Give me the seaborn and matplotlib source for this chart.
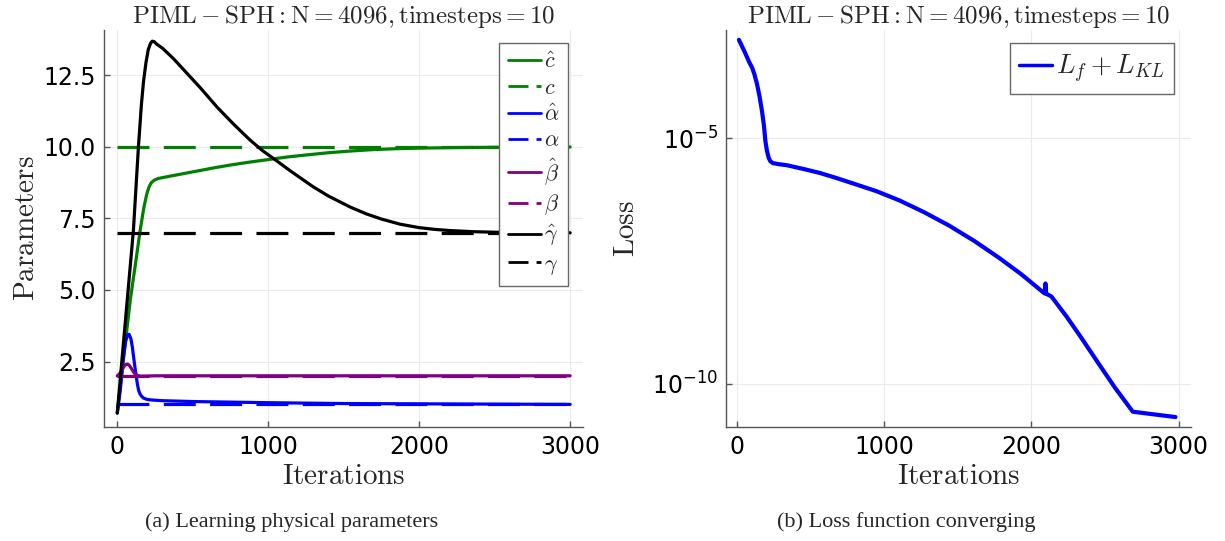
import numpy as np
import pandas as pd
import matplotlib
matplotlib.use("Agg")
import matplotlib.pyplot as plt
import seaborn as sns
from matplotlib.ticker import FixedLocator, FixedFormatter

# ---------------- data ----------------
c_hat_iter = [0, 25, 50, 86, 120, 152, 175, 195, 210, 225, 245, 272, 350, 450, 550, 650, 750, 875, 1000,
              1125, 1250, 1400, 1550, 1700, 1850, 2000, 2250, 2500, 3000]
c_hat_val = [0.7, 1.9, 3.0, 4.65, 5.9, 7.1, 7.85, 8.35, 8.6, 8.75, 8.84, 8.9, 8.98, 9.08, 9.18, 9.28, 9.37, 9.47, 9.56,
             9.65, 9.72, 9.8, 9.86, 9.91, 9.94, 9.96, 9.98, 9.99, 10.0]

gamma_hat_iter = [0, 30, 66, 107, 140, 160, 174, 190, 205, 220, 232, 245, 260, 300, 370, 440, 550, 660, 770, 880,
                  960, 1060, 1150, 1300, 1400, 1543, 1650, 1750, 1874, 2000, 2100, 2200, 2350, 2500, 2700, 3000]
gamma_hat_val = [0.7, 2.5, 4.65, 7.1, 10.0, 11.5, 12.3, 12.95, 13.4, 13.62, 13.7, 13.68, 13.6, 13.45, 13.1, 12.7, 12.07,
                 11.4, 10.8, 10.24, 9.88, 9.5, 9.15, 8.6, 8.28, 7.9, 7.66, 7.48, 7.3, 7.18, 7.12, 7.08, 7.04, 7.02, 7.0, 7.0]

alpha_hat_iter = [0, 20, 40, 55, 68, 78, 90, 100, 108, 117, 125, 133, 141, 150, 160, 174, 200, 240, 300, 500,
                  1000, 1500, 2000, 2500, 3000]
alpha_hat_val = [0.7, 1.5, 2.6, 3.2, 3.43, 3.45, 3.3, 3.0, 2.66, 2.3, 2.0, 1.72, 1.5, 1.37, 1.29, 1.22, 1.17, 1.15,
                 1.13, 1.1, 1.06, 1.03, 1.02, 1.01, 1.0]

beta_hat_iter = [0, 15, 30, 45, 58, 68, 80, 92, 105, 120, 135, 150, 180, 250, 500, 1000, 2000, 3000]
beta_hat_val = [2.0, 2.07, 2.2, 2.33, 2.4, 2.41, 2.36, 2.27, 2.15, 2.05, 2.01, 1.99, 1.99, 2.0, 2.0, 2.0, 2.0, 2.0]

true_iter = [0, 3000]
c_true = 10.0
alpha_true = 1.0
beta_true = 2.0
gamma_true = 7.0

loss_iter = [10, 50, 80, 100, 115, 133, 150, 167, 180, 190, 200, 212, 223, 240, 280, 337, 450, 561, 670, 784,
             946, 1101, 1270, 1439, 1610, 1777, 1930, 2081, 2090, 2095, 2100, 2135, 2240, 2338, 2450, 2568,
             2689, 2800, 2980]
loss_val = [1.0e-3, 5.6e-4, 3.5e-4, 2.7e-4, 2.0e-4, 1.26e-4, 7.1e-5, 3.5e-5, 1.8e-5, 8.7e-6, 5.6e-6, 4.0e-6,
            3.4e-6, 3.1e-6, 2.95e-6, 2.8e-6, 2.35e-6, 1.95e-6, 1.55e-6, 1.2e-6, 8.3e-7, 5.4e-7, 3.1e-7,
            1.66e-7, 8.1e-8, 3.7e-8, 1.7e-8, 7.2e-9, 6.9e-9, 1.1e-8, 6.8e-9, 6.0e-9, 2.3e-9, 8.7e-10,
            2.75e-10, 8.3e-11, 2.7e-11, 2.45e-11, 2.1e-11]

x_ticks = [0, 1000, 2000, 3000]
y_ticks_left = [2.5, 5.0, 7.5, 10.0, 12.5]
y_ticklabels_left = ["2.5", "5.0", "7.5", "10.0", "12.5"]
y_ticks_right = [1e-10, 1e-5]
y_ticklabels_right = [r"$10^{-10}$", r"$10^{-5}$"]

title_text = r"$\mathrm{PIML} - \mathrm{SPH}: \mathrm{N} = 4096, \mathrm{timesteps} = 10$"
caption_a = "(a) Learning physical parameters"
caption_b = "(b) Loss function converging"

# ---------------- style ----------------
sns.set_theme(style="ticks")
plt.rcParams["font.family"] = ["DejaVu Sans"]
plt.rcParams["mathtext.fontset"] = "dejavusans"

GREEN = "#008000"
BLUE = "#0000ff"
PURPLE = "#800080"
BLACK = "#000000"
LW = 2.3
DASH = (10, 4.5)

fig = plt.figure(figsize=(12.25, 5.41), dpi=100)
W, H = 1225, 541


def px_axes(l, t, r, b):
    return fig.add_axes([l / W, 1 - b / H, (r - l) / W, (b - t) / H])


ax1 = px_axes(104, 30, 583, 427)
ax2 = px_axes(726, 30, 1191, 427)


def line(ax, xs, ys, color, label, dashed=False, lw=LW):
    df = pd.DataFrame({"x": xs, "y": ys})
    sns.lineplot(data=df, x="x", y="y", ax=ax, color=color, lw=lw, label=label,
                 sort=False, estimator=None)
    ln = ax.lines[-1]
    ln.set_solid_joinstyle("round")
    ln.set_solid_capstyle("round")
    if dashed:
        ln.set_dashes(DASH)


# left panel
line(ax1, c_hat_iter, c_hat_val, GREEN, r"$\hat{c}$")
line(ax1, true_iter, [c_true] * 2, GREEN, r"$c$", dashed=True)
line(ax1, alpha_hat_iter, alpha_hat_val, BLUE, r"$\hat{\alpha}$")
line(ax1, true_iter, [alpha_true] * 2, BLUE, r"$\alpha$", dashed=True)
line(ax1, beta_hat_iter, beta_hat_val, PURPLE, r"$\hat{\beta}$")
line(ax1, true_iter, [beta_true] * 2, PURPLE, r"$\beta$", dashed=True)
line(ax1, gamma_hat_iter, gamma_hat_val, BLACK, r"$\hat{\gamma}$")
line(ax1, true_iter, [gamma_true] * 2, BLACK, r"$\gamma$", dashed=True)

ax1.set_xlim(-88, 3085)
ax1.set_ylim(0.21, 14.09)
ax1.set_xticks(x_ticks)
ax1.set_yticks(y_ticks_left)
ax1.set_yticklabels(y_ticklabels_left)

# right panel
line(ax2, loss_iter, loss_val, BLUE, r"$L_f + L_{KL}$", lw=3.0)
ax2.set_yscale("log")
ax2.set_xlim(-78, 3085)
ax2.set_ylim(10 ** -10.88, 10 ** -2.8)
ax2.set_xticks(x_ticks)
ax2.yaxis.set_major_locator(FixedLocator(y_ticks_right))
ax2.yaxis.set_major_formatter(FixedFormatter(y_ticklabels_right))
ax2.yaxis.set_minor_locator(FixedLocator([]))

for ax in (ax1, ax2):
    sns.despine(ax=ax)
    for s in ("left", "bottom"):
        ax.spines[s].set_color("#555555")
        ax.spines[s].set_linewidth(1.0)
    ax.grid(True, color="#ebebeb", lw=0.8)
    ax.set_axisbelow(True)
    ax.tick_params(direction="in", length=4, width=1, color="#555555",
                   labelsize=17, labelcolor="black", pad=6)
    t = ax.set_title(title_text, fontsize=18, pad=4)
    t.set_math_fontfamily("cm")
    xl = ax.set_xlabel(r"$\mathrm{Iterations}$", fontsize=21, labelpad=2)
    xl.set_math_fontfamily("cm")

yl1 = ax1.set_ylabel(r"$\mathrm{Parameters}$", fontsize=21, labelpad=2)
yl1.set_math_fontfamily("cm")
yl2 = ax2.set_ylabel(r"$\mathrm{Loss}$", fontsize=21, labelpad=8)
yl2.set_math_fontfamily("cm")

leg1 = ax1.legend(loc="upper right", bbox_to_anchor=(0.969, 0.967), fontsize=16,
                  frameon=True, fancybox=False, framealpha=1, edgecolor="#666666",
                  handlelength=1.45, handletextpad=0.15, labelspacing=0.26,
                  borderpad=0.4, borderaxespad=0)
leg1.get_frame().set_linewidth(1.0)
for txt in leg1.get_texts():
    txt.set_math_fontfamily("cm")
for i, h in enumerate(leg1.get_lines()):
    h.set_linewidth(2)
    if i % 2 == 1:
        h.set_dashes((7.2, 2.9))

leg2 = ax2.legend(loc="upper right", bbox_to_anchor=(0.963, 0.967), fontsize=19.5,
                  frameon=True, fancybox=False, framealpha=1, edgecolor="#666666",
                  handlelength=1.2, handletextpad=0.15, borderpad=0.35, borderaxespad=0)
leg2.get_frame().set_linewidth(1.0)
for txt in leg2.get_texts():
    txt.set_math_fontfamily("cm")
for h in leg2.get_lines():
    h.set_linewidth(2.5)

fig.text(292 / W, 1 - 522 / H, caption_a, ha="center", va="center",
         fontsize=16, family="Liberation Serif")
fig.text(906 / W, 1 - 522 / H, caption_b, ha="center", va="center",
         fontsize=16, family="Liberation Serif")

fig.savefig("out.png", dpi=100)
